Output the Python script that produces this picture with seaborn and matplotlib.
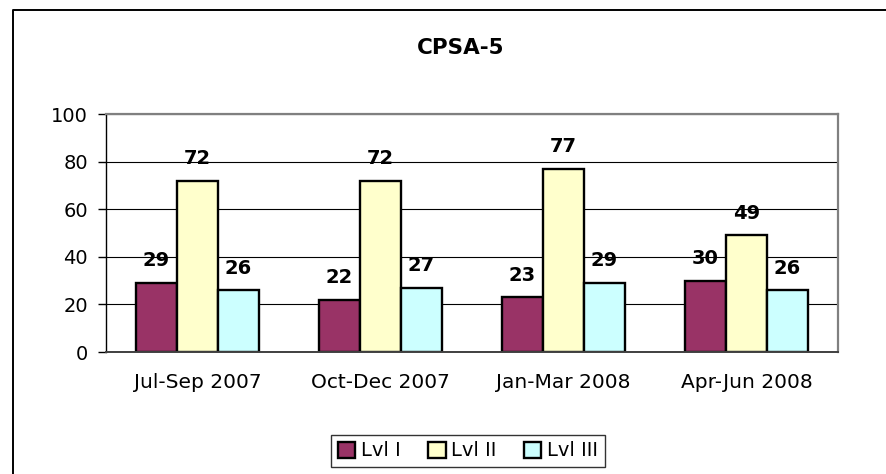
import numpy as np
import pandas as pd
import matplotlib
matplotlib.use("Agg")
import matplotlib.pyplot as plt
from matplotlib.lines import Line2D
from matplotlib.patches import Patch
import seaborn as sns

# -----------------------------
# DATA
# -----------------------------

PERIODS = ["Jul-Sep 2007", "Oct-Dec 2007", "Jan-Mar 2008", "Apr-Jun 2008"]
LEVELS = ["Lvl I", "Lvl II", "Lvl III"]

LVL_I = [29, 22, 23, 30]
LVL_II = [72, 72, 77, 49]
LVL_III = [26, 27, 29, 26]

COLORS = ["#993366", "#FFFFCC", "#CCFFFF"]

TITLE = "CPSA-5"

# -----------------------------
# PLOT
# -----------------------------

df = pd.DataFrame({
    "period": PERIODS * 3,
    "level": np.repeat(LEVELS, len(PERIODS)),
    "value": LVL_I + LVL_II + LVL_III,
})

sns.set_style("white")
plt.rcParams["font.family"] = ["DejaVu Sans"]
plt.rcParams["text.color"] = "black"
plt.rcParams["xtick.color"] = "black"
plt.rcParams["ytick.color"] = "black"
plt.rcParams["axes.labelcolor"] = "black"

fig = plt.figure(figsize=(8.86, 4.74), dpi=100)
ax = fig.add_axes([106 / 886, 122 / 474, 732 / 886, 238 / 474])

sns.barplot(
    data=df, x="period", y="value", hue="level",
    order=PERIODS, hue_order=LEVELS,
    palette=COLORS, saturation=1, width=0.673,
    edgecolor="black", linewidth=1.7, legend=False, ax=ax
)

for cont in ax.containers:
    ax.bar_label(cont, fmt="%d", padding=9, fontsize=14, fontweight="bold",
                 color="black")

ax.set_ylim(0, 100)
ax.set_xlim(-0.5, 3.5)
ax.set_yticks([0, 20, 40, 60, 80, 100])
ax.set_axisbelow(True)
ax.yaxis.grid(True, color="black", linewidth=0.8)
ax.set_xlabel("")
ax.set_ylabel("")

ax.set_xticks(np.arange(len(PERIODS)))
ax.set_xticks(np.arange(len(PERIODS) + 1) - 0.5, minor=True)
ax.tick_params(axis="x", which="major", length=0, pad=15, labelsize=14.5)
ax.tick_params(axis="x", which="minor", length=5, width=1, color="#404040", direction="out")
ax.tick_params(axis="y", length=6, width=1, color="black", direction="out", pad=7, labelsize=14, left=True)

for side in ["top", "right"]:
    ax.spines[side].set_color("#808080")
    ax.spines[side].set_linewidth(1.6)
ax.spines["left"].set_color("black")
ax.spines["left"].set_linewidth(1)
ax.spines["bottom"].set_color("#404040")
ax.spines["bottom"].set_linewidth(1.4)

fig.text(461 / 886, 1 - 48 / 474, TITLE, ha="center", va="center",
         fontsize=15.5, fontweight="bold")

handles = [Patch(facecolor=c, edgecolor="black", linewidth=1.7) for c in COLORS]
leg = fig.legend(
    handles, LEVELS, loc="center", bbox_to_anchor=(468 / 886, 23 / 474),
    ncol=3, fontsize=14, frameon=True, fancybox=False, edgecolor="black",
    handlelength=0.9, handleheight=0.9, handletextpad=0.3,
    columnspacing=1.4, borderpad=0.35, borderaxespad=0
)
leg.get_frame().set_linewidth(1)

# outer chart frame (left and top edges visible)
fig.add_artist(Line2D([13 / 886, 13 / 886, 1.01], [-0.01, 1 - 10 / 474, 1 - 10 / 474],
                      transform=fig.transFigure, color="black", linewidth=1.4))

fig.savefig("out.png", dpi=100)
